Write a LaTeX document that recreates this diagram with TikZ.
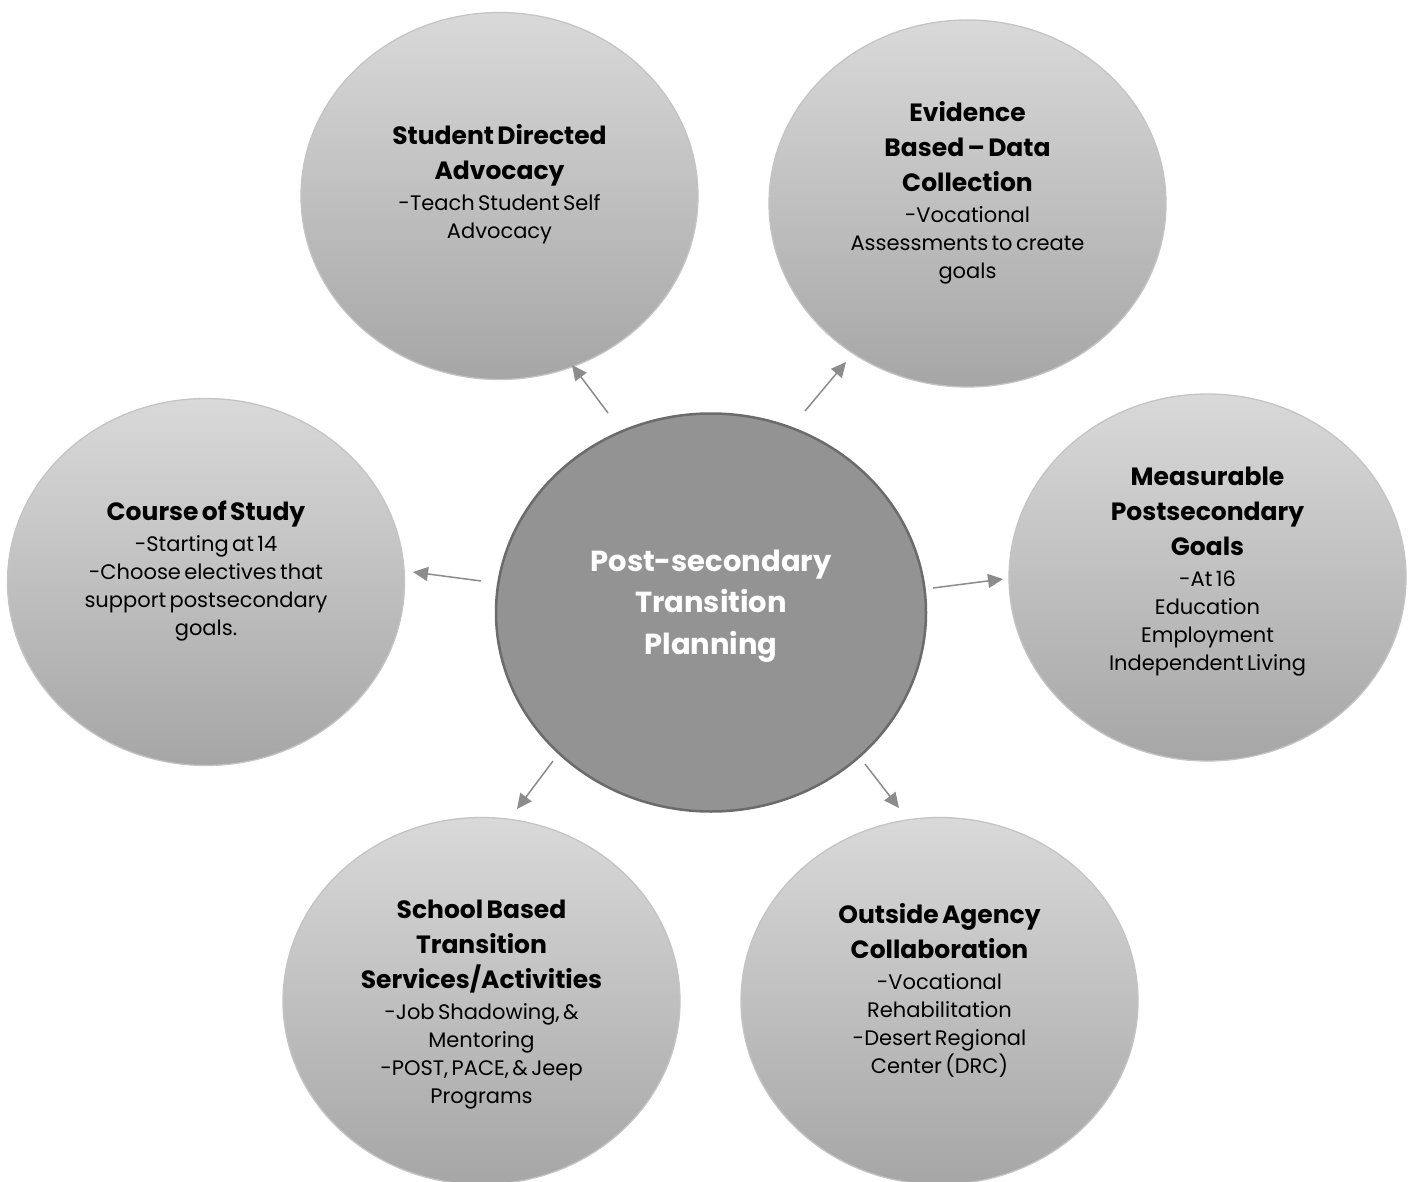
\documentclass[tikz,border=0pt]{standalone}
\usepackage{fontspec}
\setmainfont{Poppins}[WordSpace=1.35]
\usetikzlibrary{shapes.geometric,arrows.meta}
\definecolor{gtop}{HTML}{D9D9D9}
\definecolor{gbot}{HTML}{A6A6A6}
\definecolor{gedge}{HTML}{C4C4C4}
\definecolor{cfill}{HTML}{939393}
\definecolor{cedge}{HTML}{6B6B6B}
\definecolor{arr}{HTML}{8C8C8C}
\newcommand{\hfont}{\fontsize{25}{35}\selectfont\bfseries}
\newcommand{\bfont}{\par\vspace{3pt}\fontsize{21}{28}\selectfont\mdseries}
\begin{document}
\begin{tikzpicture}[x=1pt,y=-1pt,
  outer/.style={ellipse, draw=gedge, line width=1.3pt, top color=gtop, bottom color=gbot, inner sep=0pt, outer sep=0pt, minimum width=397pt, minimum height=367pt},
  hub/.style={ellipse, draw=cedge, line width=2.5pt, fill=cfill, inner sep=0pt, outer sep=0pt, minimum width=430pt, minimum height=398pt},
  label/.style={text width=380pt, align=center, inner sep=0pt, text=black},
  link/.style={draw=arr, line width=1.5pt, -{Triangle[length=15pt,width=14pt]}}
]
\useasboundingbox (0,0) rectangle (1413,1182);
\fill[white] (0,0) rectangle (1413,1182);

\node[outer] (sda) at (499.5,196) {};
\node[outer] (ebd) at (967.5,203.5) {};
\node[outer] (mpg) at (1207.5,577.5) {};
\node[outer] (cos) at (206,582) {};
\node[outer] (sbt) at (481.5,1001) {};
\node[outer] (oac) at (939.5,1001) {};
\node[hub] (hub) at (711,612.5) {};

\node[label] (sdat) at (499.5,184.5) {\hfont Student Directed\\Advocacy\bfont -Teach Student Self\\Advocacy\par};
\node[label] (ebdt) at (967.5,192.5) {\hfont Evidence\\Based -- Data\\Collection\bfont -Vocational\\Assessments to create\\goals\par};
\node[label] (mpgt) at (1207.5,571.5) {\hfont Measurable\\Postsecondary\\Goals\bfont -At 16\\Education\\Employment\\Independent Living\par};
\node[label] (cost) at (206,571.5) {\hfont Course of Study\bfont -Starting at 14\\-Choose electives that\\support postsecondary\\goals.\par};
\node[label] (sbtt) at (481.5,1005) {\hfont School Based\\Transition\\Services/Activities\bfont -Job Shadowing, \&\\Mentoring\\-POST, PACE, \& Jeep\\Programs\par};
\node[label] (oact) at (939.5,990) {\hfont Outside Agency\\Collaboration\bfont -Vocational\\Rehabilitation\\-Desert Regional\\Center (DRC)\par};
\node[label, text=white] (hubt) at (711,606) {\fontsize{29}{41.5}\selectfont\bfseries Post-secondary\\Transition\\Planning\par};

\coordinate (a1s) at (608,413); \coordinate (a1e) at (572,365);
\coordinate (a2s) at (805,411); \coordinate (a2e) at (846,362);
\coordinate (a3s) at (933,588); \coordinate (a3e) at (1003,579);
\coordinate (a4s) at (481,581); \coordinate (a4e) at (413,572);
\coordinate (a5s) at (553,761); \coordinate (a5e) at (517,809);
\coordinate (a6s) at (865,764); \coordinate (a6e) at (899,808);
\draw[link] (a1s) -- (a1e);
\draw[link] (a2s) -- (a2e);
\draw[link] (a3s) -- (a3e);
\draw[link] (a4s) -- (a4e);
\draw[link] (a5s) -- (a5e);
\draw[link] (a6s) -- (a6e);
\end{tikzpicture}
\end{document}
